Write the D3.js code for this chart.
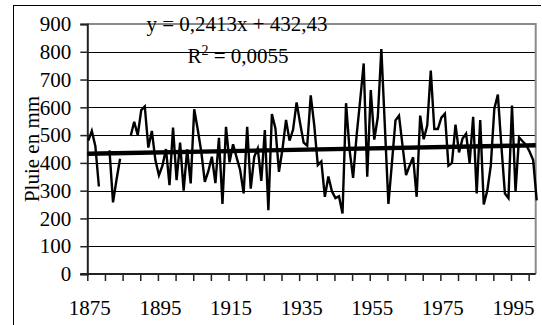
<!DOCTYPE html>
<html>
<head>
<meta charset="utf-8">
<script src="https://cdn.jsdelivr.net/npm/d3@7/dist/d3.min.js"></script>
<style>
  html, body { margin: 0; padding: 0; background: #fff; }
  svg { display: block; }
  text { font-family: "Liberation Serif", "Times New Roman", serif; fill: #000; }
</style>
</head>
<body>
<svg id="chart" width="542" height="325"></svg>
<script>
// ---- data ----
const firstYear = 1875;
const lastYear = 2002;
const rainfall = [
  480, 515, 460, 315, null, null, 445, 258, 340, 415,          // 1875-1884
  null, null, 497, 548, 500, 590, 603, 455, 515, 410,          // 1885-1894
  355, 390, 450, 320, 527, 338, 473, 300, 449, 326,            // 1895-1904
  593, 520, 440, 332, 370, 422, 327, 490, 252, 530,            // 1905-1914
  402, 467, 420, 375, 290, 530, 307, 422, 452, 335,            // 1915-1924
  518, 230, 576, 524, 368, 450, 555, 480, 520, 618,            // 1925-1934
  542, 473, 462, 643, 535, 392, 405, 278, 351, 298,            // 1935-1944
  273, 280, 218, 615, 446, 346, 500, 625, 758, 350,            // 1945-1954
  662, 484, 565, 810, 530, 252, 400, 553, 570, 462,            // 1955-1964
  356, 390, 420, 278, 570, 485, 535, 732, 522, 522,            // 1965-1974
  563, 577, 390, 400, 538, 438, 488, 505, 400, 566,            // 1975-1984
  290, 554, 250, 300, 390, 595, 646, 460, 290, 273,            // 1985-1994
  606, 297, 492, 478, 465, 440, 410, 265                       // 1995-2002
];
const yTicks = [0, 100, 200, 300, 400, 500, 600, 700, 800, 900];
const xTickYears = d3.range(1875, 2001, 5);
const xLabelYears = [1875, 1895, 1915, 1935, 1955, 1975, 1995];
const trendSlope = 0.2413;
const trendIntercept = 432.43;
const equationText = "y = 0,2413x + 432,43";
const r2Value = "0,0055";
const yAxisTitle = "Pluie en mm";

const years = d3.range(firstYear, lastYear + 1);
const points = years.map((yr, i) => ({ year: yr, value: rainfall[i] }));

// ---- layout ----
const svg = d3.select("#chart");
const L = 87.3, R = 535.7, T = 24, B = 274;
const FS = 21;

const x = d3.scaleLinear().domain([firstYear, lastYear]).range([L, R]);
const y = d3.scaleLinear().domain([0, 900]).range([B, T]);

svg.append("rect").attr("width", 542).attr("height", 325).attr("fill", "#fff");

// outer chart frame (top + left visible)
svg.append("line").attr("x1", 13.5).attr("x2", 541).attr("y1", 5.5).attr("y2", 5.5)
  .attr("stroke", "#000").attr("stroke-width", 1);
svg.append("line").attr("x1", 13.5).attr("x2", 13.5).attr("y1", 5).attr("y2", 325)
  .attr("stroke", "#000").attr("stroke-width", 1);

// gridlines
svg.append("g").selectAll("line")
  .data(yTicks.filter(v => v > 0 && v < 900))
  .join("line")
  .attr("x1", L).attr("x2", R)
  .attr("y1", d => Math.round(y(d)) + 0.5).attr("y2", d => Math.round(y(d)) + 0.5)
  .attr("stroke", "#000").attr("stroke-width", 1);

// plot border top & right (gray)
svg.append("path")
  .attr("d", `M${L},${y(900)}H${R}V${B}`)
  .attr("fill", "none").attr("stroke", "#8a8a8a").attr("stroke-width", 2);

// y axis
const yAxis = d3.axisLeft(y).tickValues(yTicks).tickSize(7).tickPadding(9).tickFormat(d3.format("d"));
const gy = svg.append("g").attr("transform", `translate(${L},0)`).call(yAxis);
gy.select(".domain").attr("stroke", "#222").attr("stroke-width", 2);
gy.selectAll(".tick line").attr("stroke", "#222").attr("stroke-width", 1.5);
gy.selectAll(".tick text").attr("font-size", FS).attr("font-family", "Liberation Serif").attr("fill", "#000");

// x axis
const xAxis = d3.axisBottom(x).tickValues(xTickYears).tickSize(7).tickPadding(19)
  .tickFormat(d => xLabelYears.includes(d) ? String(d) : "");
const gx = svg.append("g").attr("transform", `translate(0,${B})`).call(xAxis);
gx.select(".domain").remove();
gx.append("line").attr("x1", L - 7).attr("x2", R).attr("y1", 0).attr("y2", 0)
  .attr("stroke", "#222").attr("stroke-width", 2);
gx.selectAll(".tick line").attr("stroke", "#222").attr("stroke-width", 1.5);
gx.selectAll(".tick text").attr("font-size", FS).attr("font-family", "Liberation Serif").attr("fill", "#000")
  .attr("dx", 2);

// data line
const line = d3.line()
  .defined(d => d.value !== null)
  .x(d => x(d.year) + 1)
  .y(d => y(d.value));
svg.append("path").datum(points)
  .attr("d", line)
  .attr("fill", "none").attr("stroke", "#000").attr("stroke-width", 2.4)
  .attr("stroke-linejoin", "miter");

// linear trend (x = index starting at 1)
const trend = [
  { year: firstYear, value: trendSlope * 1 + trendIntercept },
  { year: lastYear, value: trendSlope * years.length + trendIntercept }
];
svg.append("path").datum(trend)
  .attr("d", d3.line().x(d => x(d.year)).y(d => y(d.value)))
  .attr("fill", "none").attr("stroke", "#000").attr("stroke-width", 4.4);

// equation labels
svg.append("text").attr("x", 237).attr("y", 31).attr("text-anchor", "middle")
  .attr("font-size", FS).text(equationText);
const r2 = svg.append("text").attr("x", 238).attr("y", 63).attr("text-anchor", "middle")
  .attr("font-size", FS);
r2.append("tspan").text("R");
r2.append("tspan").attr("font-size", 14).attr("dy", -8).text("2");
r2.append("tspan").attr("dy", 8).text(" = " + r2Value);

// y axis title
svg.append("text")
  .attr("transform", "translate(39,149) rotate(-90)")
  .attr("text-anchor", "middle").attr("font-size", FS)
  .text(yAxisTitle);
</script>
</body>
</html>
